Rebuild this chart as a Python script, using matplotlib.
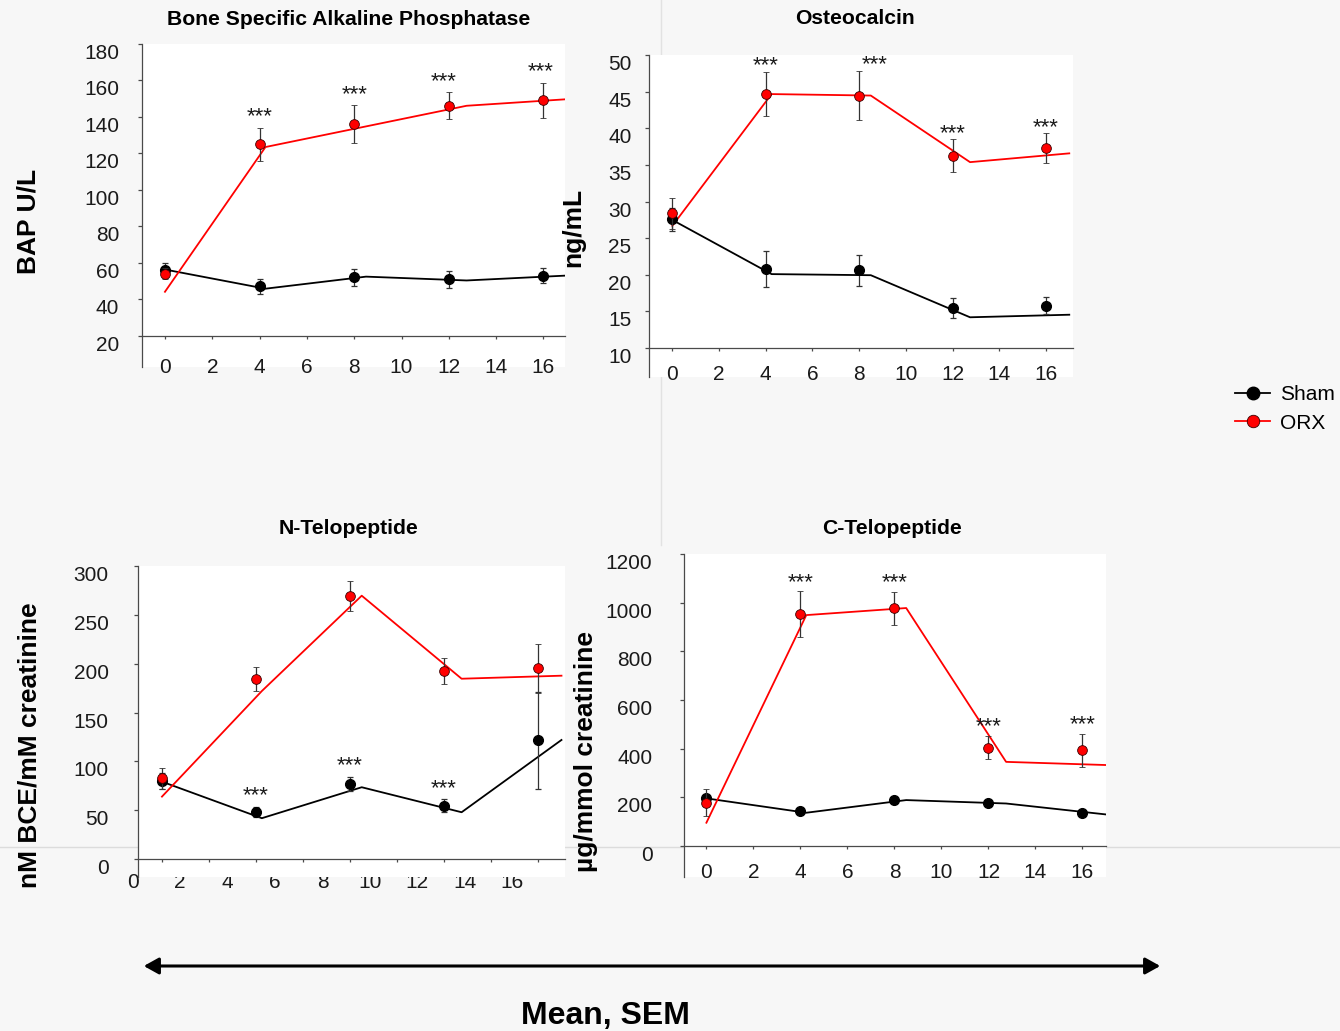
import matplotlib
matplotlib.use("Agg")
import matplotlib.pyplot as plt
from matplotlib import font_manager
from matplotlib.lines import Line2D
from matplotlib.patches import FancyArrowPatch, ArrowStyle
from matplotlib.transforms import blended_transform_factory

# ---------------------------------------------------------------- data
weeks = [0, 4, 8, 12, 16]
trend_weeks = [0, 4.25, 8.5, 12.75, 17.0]
week_ticks = [0, 2, 4, 6, 8, 10, 12, 14, 16]
week_tick_labels = ["0", "2", "4", "6", "8", "10", "12", "14", "16"]

# Bone specific alkaline phosphatase, U/L
bap_sham = [56, 47, 52, 51, 53]
bap_sham_sem = [3.7, 3.9, 4.7, 4.6, 4.1]
bap_orx = [54, 125, 136, 146, 149]
bap_orx_sem = [3.0, 9.0, 10.3, 7.3, 9.6]
bap_sham_trend = [56.3, 45.8, 52.4, 50.3, 53.0]
bap_orx_trend = [44.1, 123.4, 134.7, 146.0, 149.6]
bap_yticks = [20, 40, 60, 80, 100, 120, 140, 160, 180]

# Osteocalcin, ng/mL
oc_sham = [27.6, 20.8, 20.6, 15.5, 15.8]
oc_sham_sem = [1.6, 2.45, 2.15, 1.35, 1.2]
oc_orx = [28.4, 44.7, 44.5, 36.3, 37.3]
oc_orx_sem = [2.1, 3.0, 3.4, 2.2, 2.05]
oc_sham_trend = [27.5, 20.1, 19.95, 14.2, 14.55]
oc_orx_trend = [26.7, 44.7, 44.5, 35.4, 36.6]
oc_yticks = [10, 15, 20, 25, 30, 35, 40, 45, 50]

# N-telopeptide, nM BCE/mM creatinine
ntx_sham = [80, 48.5, 76.9, 54.7, 121.6]
ntx_sham_sem = [8, 5, 7.5, 6.5, 49.6]
ntx_orx = [82.7, 184.3, 269.3, 192.5, 195.3]
ntx_orx_sem = [11, 12.7, 15, 13.5, 25]
ntx_sham_trend = [79.2, 41.8, 73.5, 47.9, 121.9]
ntx_orx_trend = [63.9, 172.0, 269.6, 184.6, 187.7]
ntx_yticks = [0, 50, 100, 150, 200, 250, 300]

# C-telopeptide, ug/mmol creatinine
ctx_sham = [196, 145, 189, 177, 137]
ctx_sham_sem = [12, 8, 10, 9, 8]
ctx_orx = [178, 953, 977, 404, 393]
ctx_orx_sem = [56, 94, 68, 48, 69]
ctx_sham_trend = [196, 137, 189, 175, 130]
ctx_orx_trend = [96, 949, 978, 346, 333]
ctx_yticks = [0, 200, 400, 600, 800, 1000, 1200]

# indices of time points flagged as significant (***)
bap_sig = [1, 2, 3, 4]
oc_sig = [1, 2, 3, 4]
ntx_sig = [1, 2, 3]
ctx_sig = [1, 2, 3, 4]

group_names = ["Sham", "ORX"]

# ---------------------------------------------------------------- style
installed = {f.name for f in font_manager.fontManager.ttflist}
BASE = ["Liberation Sans", "DejaVu Sans"]
NARROW = (["Liberation Sans Narrow"] if "Liberation Sans Narrow" in installed else []) + BASE
plt.rcParams["font.family"] = BASE

BG = "#f7f7f7"
SPINE = "#4a4a4a"
TXT = "#1a1a1a"
ERR = "#333333"
RED = "#ff0000"

W, H = 1340, 1031
fig = plt.figure(figsize=(W / 100, H / 100), dpi=100, facecolor=BG)


def fx(px):
    return px / W


def fy(py):
    return 1 - py / H


# faint seams of the slide background
fig.add_artist(Line2D([fx(661), fx(661)], [fy(0), fy(545)], transform=fig.transFigure,
                      color="#e2e2e2", lw=1.0, zorder=-2))
fig.add_artist(Line2D([0, 1], [fy(847), fy(847)], transform=fig.transFigure,
                      color="#dcdcdc", lw=1.0, zorder=-2))


def add_panel(box, xlim, ylim, axis_y, yticks, sham, sham_sem, orx, orx_sem,
              sham_trend, orx_trend, sig, sig_series, star_pad_px,
              xpad, ypad, show_xlabels=True, star_shift_px=None):
    left, top, right, bottom = box
    ax = fig.add_axes([fx(left), fy(bottom), (right - left) / W, (bottom - top) / H])
    ax.set_facecolor("white")
    ax.set_xlim(*xlim)
    ax.set_ylim(*ylim)
    for side in ("top", "right"):
        ax.spines[side].set_visible(False)
    ax.spines["left"].set_color(SPINE)
    ax.spines["bottom"].set_color(SPINE)
    ax.spines["left"].set_linewidth(0.9)
    ax.spines["bottom"].set_linewidth(0.9)
    ax.spines["bottom"].set_position(("data", axis_y))

    ax.set_yticks(yticks)
    ax.set_yticklabels([str(v) for v in yticks])
    ax.set_xticks(week_ticks)
    ax.set_xticklabels(week_tick_labels if show_xlabels else [""] * len(week_ticks))
    ax.tick_params(axis="both", direction="out", color=SPINE, width=0.9,
                   labelsize=15, labelcolor=TXT)
    ax.tick_params(axis="y", length=3.0, pad=ypad)
    ax.tick_params(axis="x", length=2.5, pad=xpad)
    for lab in ax.get_yticklabels():
        lab.set_verticalalignment("top")

    # trend lines
    ax.plot(trend_weeks, sham_trend, color="black", lw=1.3, zorder=2)
    ax.plot(trend_weeks, orx_trend, color=RED, lw=1.3, zorder=2)

    # group means with SEM
    ax.errorbar(weeks, sham, yerr=sham_sem, fmt="o", ms=7, mfc="black", mec="black",
                ecolor=ERR, elinewidth=0.9, capsize=2.5, capthick=0.9, zorder=3)
    ax.errorbar(weeks, orx, yerr=orx_sem, fmt="o", ms=7, mfc=RED, mec="#3a0000",
                mew=0.6, ecolor=ERR, elinewidth=0.9, capsize=2.5, capthick=0.9, zorder=4)

    # significance markers
    means, sems = (orx, orx_sem) if sig_series == "orx" else (sham, sham_sem)
    shifts = star_shift_px or {}
    for i in sig:
        dx = shifts.get(i, 0) * 0.72
        ax.annotate("***", (weeks[i], means[i] + sems[i]),
                    xytext=(dx, (star_pad_px - 12.5) * 0.72), textcoords="offset points",
                    ha="center", va="baseline", fontsize=16, color=TXT, zorder=5)
    return ax


ax1 = add_panel((142, 43.7, 565, 367), (-0.97, 16.91), (2.9, 180), 20, bap_yticks,
                bap_sham, bap_sham_sem, bap_orx, bap_orx_sem,
                bap_sham_trend, bap_orx_trend, bap_sig, "orx", 18, 13.5, 13.5,
                star_shift_px={3: -5, 4: -3})
ax2 = add_panel((649, 55.3, 1073, 377), (-1.0, 17.16), (6.04, 50), 10, oc_yticks,
                oc_sham, oc_sham_sem, oc_orx, oc_orx_sem,
                oc_sham_trend, oc_orx_trend, oc_sig, "orx", 13, 9.4, 9.6,
                star_shift_px={2: 16})
ax3 = add_panel((138, 566, 565, 877), (-1.02, 17.15), (-18.4, 300), 0, ntx_yticks,
                ntx_sham, ntx_sham_sem, ntx_orx, ntx_orx_sem,
                ntx_sham_trend, ntx_orx_trend, ntx_sig, "sham", 18, 9.4, 18.0,
                show_xlabels=False)
ax4 = add_panel((683.6, 554, 1106, 877), (-0.97, 17.0), (-127, 1200), 0, ctx_yticks,
                ctx_sham, ctx_sham_sem, ctx_orx, ctx_orx_sem,
                ctx_sham_trend, ctx_orx_trend, ctx_sig, "orx", 16, 9.4, 19.4)

# N-telopeptide week labels sit offset from their ticks, partly under the plot area
lab_tr = blended_transform_factory(ax3.transData, fig.transFigure)
for v, s in zip(week_ticks, week_tick_labels):
    fig.text(v * 1.01 - 1.25, fy(882), s, transform=lab_tr, ha="center", va="center",
             fontsize=15, color=TXT, zorder=-1)

# titles
title_kw = dict(fontsize=15.2, fontweight="bold", color="black", ha="center", va="baseline")
fig.text(fx(349), fy(25), "Bone Specific Alkaline Phosphatase", **title_kw)
fig.text(fx(855), fy(24), "Osteocalcin", **title_kw)
fig.text(fx(348), fy(534), "N-Telopeptide", **title_kw)
fig.text(fx(892), fy(534), "C-Telopeptide", **title_kw)

# axis units
ylab_kw = dict(fontsize=19, fontweight="bold", color="black", rotation=90,
               ha="center", va="center")
fig.text(fx(28), fy(221), "BAP U/L", **ylab_kw)
fig.text(fx(573), fy(227), "ng/mL", **ylab_kw)
fig.text(fx(30), fy(745), "nM BCE/mM creatinine", **ylab_kw)
fig.text(fx(586), fy(752), "µg/mmol creatinine", **ylab_kw)

# legend
handles = [
    Line2D([], [], color="black", lw=1.3, marker="o", ms=9, mfc="black", mec="black"),
    Line2D([], [], color=RED, lw=1.3, marker="o", ms=9, mfc=RED, mec="#3a0000", mew=0.6),
]
fig.legend(handles, group_names, loc="center left", bbox_to_anchor=(fx(1235), fy(409)),
           frameon=False, fontsize=15, handlelength=1.7, handletextpad=0.45,
           labelspacing=0.45, borderpad=0, borderaxespad=0)

# double-headed arrow and footer
arrow = FancyArrowPatch((fx(141), fy(966)), (fx(1163), fy(966)), transform=fig.transFigure,
                        arrowstyle=ArrowStyle("<|-|>", head_length=9, head_width=5),
                        mutation_scale=1, lw=2.2, color="black")
fig.add_artist(arrow)
fig.text(fx(605), fy(1024), "Mean, SEM", family=NARROW, fontsize=23, fontweight="bold",
         ha="center", va="baseline", color="black")

fig.savefig("out.png", dpi=100, facecolor=BG)
